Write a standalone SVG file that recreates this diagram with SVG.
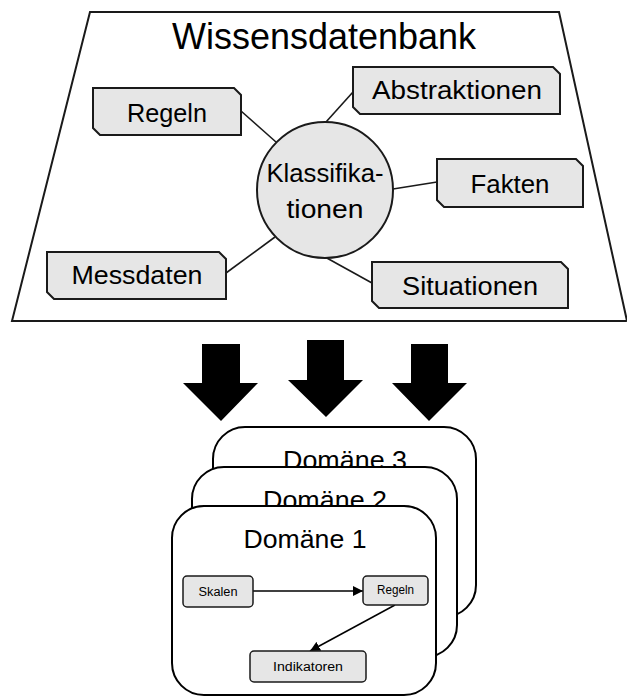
<svg xmlns="http://www.w3.org/2000/svg" width="627" height="697" viewBox="0 0 627 697">
<style>
text { font-family: "Liberation Sans", Arial, sans-serif; fill: #000; text-anchor: middle; }
.box { fill: #e6e6e6; stroke: #1a1a1a; stroke-width: 2; }
.lbl { font-size: 26px; }
.con { stroke: #1a1a1a; stroke-width: 1.6; fill: none; }
.dom { fill: #fff; stroke: #000; stroke-width: 2; }
.dlbl { font-size: 26px; }
.ibox { fill: #e6e6e6; stroke: #1a1a1a; stroke-width: 1.5; }
.ilbl { font-size: 12.5px; }
.iarr { stroke: #000; stroke-width: 1.5; fill: none; marker-end: url(#ah); }
.blk { fill: #000; }
</style>
<defs>
<marker id="ah" viewBox="0 0 10 10" refX="10" refY="5" markerWidth="10" markerHeight="10" markerUnits="userSpaceOnUse" orient="auto">
<path d="M0,0 L10,5 L0,10 Z" fill="#000"/>
</marker>
</defs>

<g id="wissensdatenbank">
<polygon points="90,12 559,12 627,321 12,321" fill="#fff" stroke="#1a1a1a" stroke-width="2"/>
<text x="324" y="49" font-size="36" textLength="304" lengthAdjust="spacingAndGlyphs">Wissensdatenbank</text>
</g>

<g id="connectors">
<line class="con" x1="241" y1="111" x2="276" y2="142"/>
<line class="con" x1="353" y1="92" x2="326" y2="122"/>
<line class="con" x1="393" y1="189" x2="437" y2="182"/>
<line class="con" x1="325" y1="257" x2="372" y2="283"/>
<line class="con" x1="226" y1="273" x2="275" y2="237"/>
</g>

<g id="klassifikationen">
<circle class="box" cx="325" cy="190" r="68"/>
<text class="lbl" x="325" y="182" textLength="117" lengthAdjust="spacingAndGlyphs">Klassifika-</text>
<text class="lbl" x="325" y="218" textLength="77" lengthAdjust="spacingAndGlyphs">tionen</text>
</g>

<g id="regeln">
<polygon class="box" points="93,88 234,88 241,95 241,135 100,135 93,128"/>
<text class="lbl" x="167" y="122" textLength="80" lengthAdjust="spacingAndGlyphs">Regeln</text>
</g>

<g id="abstraktionen">
<polygon class="box" points="353,67 553,67 560,74 560,114 360,114 353,107"/>
<text class="lbl" x="457" y="99" textLength="170" lengthAdjust="spacingAndGlyphs">Abstraktionen</text>
</g>

<g id="fakten">
<polygon class="box" points="437,159 576,159 583,166 583,207 444,207 437,200"/>
<text class="lbl" x="510" y="193" textLength="79" lengthAdjust="spacingAndGlyphs">Fakten</text>
</g>

<g id="messdaten">
<polygon class="box" points="47,252 219,252 226,259 226,299 54,299 47,292"/>
<text class="lbl" x="137" y="284" textLength="131" lengthAdjust="spacingAndGlyphs">Messdaten</text>
</g>

<g id="situationen">
<polygon class="box" points="372,262 561,262 568,269 568,308 379,308 372,301"/>
<text class="lbl" x="470" y="295" textLength="136" lengthAdjust="spacingAndGlyphs">Situationen</text>
</g>

<g id="pfeile">
<polygon class="blk" points="202,344 240,344 240,383 258,383 221,421 183,383 202,383"/>
<polygon class="blk" points="307,340 344,340 344,380 363,380 326,417 288,380 307,380"/>
<polygon class="blk" points="411,344 448,344 448,383 467,383 429,421 392,383 411,383"/>
</g>

<g id="domaene3">
<rect class="dom" x="213" y="427" width="263" height="190" rx="32"/>
<text class="dlbl" x="345" y="469" textLength="124" lengthAdjust="spacingAndGlyphs">Domäne 3</text>
</g>

<g id="domaene2">
<rect class="dom" x="192" y="467" width="265" height="190" rx="32"/>
<text class="dlbl" x="325" y="509" textLength="124" lengthAdjust="spacingAndGlyphs">Domäne 2</text>
</g>

<g id="domaene1">
<rect class="dom" x="172" y="506" width="264" height="189" rx="32"/>
<text class="dlbl" x="305" y="548" textLength="123" lengthAdjust="spacingAndGlyphs">Domäne 1</text>
</g>

<g id="connectors-domaene">
<line class="iarr" x1="253" y1="591" x2="363" y2="591"/>
<line class="iarr" x1="395" y1="605" x2="310" y2="651"/>
</g>

<g id="skalen">
<rect class="ibox" x="183" y="576" width="70" height="31" rx="4"/>
<text class="ilbl" x="218" y="596" textLength="39" lengthAdjust="spacingAndGlyphs">Skalen</text>
</g>

<g id="regeln-domaene">
<rect class="ibox" x="363" y="576" width="65" height="29" rx="4"/>
<text class="ilbl" x="395.5" y="594" textLength="37" lengthAdjust="spacingAndGlyphs">Regeln</text>
</g>

<g id="indikatoren">
<rect class="ibox" x="250" y="651" width="116" height="31" rx="4"/>
<text class="ilbl" x="308" y="671" textLength="70" lengthAdjust="spacingAndGlyphs">Indikatoren</text>
</g>
</svg>
